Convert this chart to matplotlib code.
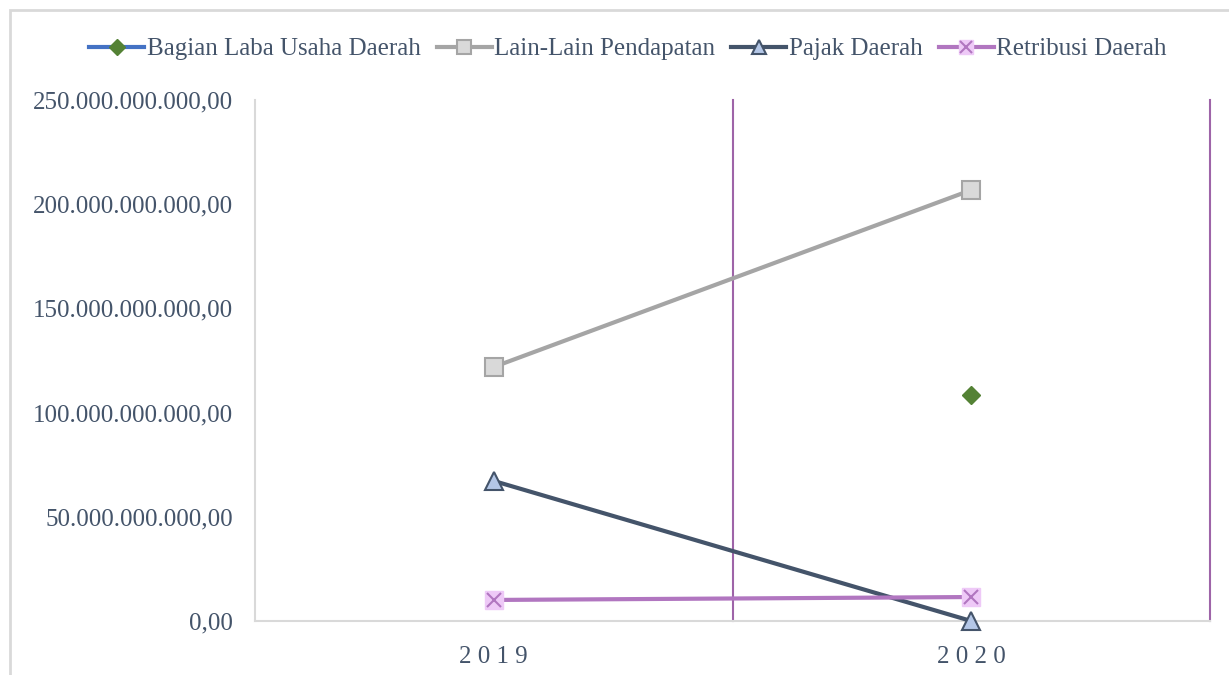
import numpy as np
import matplotlib.pyplot as plt
from matplotlib.patches import Rectangle
from matplotlib.legend_handler import HandlerTuple
from matplotlib.ticker import FuncFormatter

# data (Rupiah)
years = ['2019', '2020']
bagian_laba = [np.nan, 108.4e9]
lain_lain = [121.9e9, 206.8e9]
pajak = [67.2e9, 0.0]
retribusi = [10.1e9, 11.5e9]

text_color = '#44546A'
plt.rcParams['font.family'] = ['Liberation Serif', 'DejaVu Serif']

fig = plt.figure(figsize=(12.29, 6.75), dpi=100)
ax = fig.add_axes([255 / 1229, 1 - 621 / 675, (1210 - 255) / 1229, (621 - 100) / 675])

x = np.arange(len(years))
lw = 3.0
ms = 12.5

h1, = ax.plot(x, bagian_laba, color='#4472C4', lw=lw, marker='D', ms=9.5,
              mfc='#548235', mec='#548235', clip_on=False, zorder=5)
h2, = ax.plot(x, lain_lain, color='#A5A5A5', lw=lw, marker='s', ms=ms,
              mfc='#D9D9D9', mec='#A5A5A5', mew=1.5, clip_on=False, zorder=4)
h3, = ax.plot(x, pajak, color='#44546A', lw=lw, marker='^', ms=ms,
              mfc='#B4C7E7', mec='#44546A', mew=1.5, clip_on=False, zorder=4)
h4, = ax.plot(x, retribusi, color='#B176C0', lw=lw, marker='s', ms=ms,
              mfc='#EEC9F7', mec='#EEC9F7', clip_on=False, zorder=4)
h4x, = ax.plot(x, retribusi, ls='none', marker='x', ms=ms - 2, mec='#B176C0',
               mew=1.5, clip_on=False, zorder=5)

# vertical purple lines at category boundaries
for xv in [0.5, 1.5]:
    ax.axvline(xv, color='#9E64A8', lw=1.5, clip_on=False, zorder=2)

ax.set_xlim(-0.5, 1.5)
ax.set_ylim(0, 250e9)
ax.set_yticks(np.arange(0, 250e9 + 1, 50e9))


def rupiah(v, pos):
    s = f'{v:,.2f}'
    return s.replace(',', 'X').replace('.', ',').replace('X', '.')


ax.yaxis.set_major_formatter(FuncFormatter(rupiah))
ax.set_xticks(x)
ax.set_xticklabels([' '.join(y) for y in years])
ax.tick_params(axis='both', length=0, colors=text_color, labelsize=18)
ax.tick_params(axis='y', pad=16)
ax.tick_params(axis='x', pad=18)

for side in ['top', 'right']:
    ax.spines[side].set_visible(False)
for side in ['left', 'bottom']:
    ax.spines[side].set_color('#D9D9D9')
    ax.spines[side].set_linewidth(1.5)

# chart area border
fig.patches.append(Rectangle((10 / 1229, -0.2), 2, 1.2 - 10 / 675,
                             transform=fig.transFigure, fill=False,
                             ec='#D9D9D9', lw=2))

leg = fig.legend([h1, h2, h3, (h4, h4x)],
                 ['Bagian Laba Usaha Daerah', 'Lain-Lain Pendapatan', 'Pajak Daerah', 'Retribusi Daerah'],
                 handler_map={tuple: HandlerTuple(ndivide=1)},
                 loc='center', bbox_to_anchor=(628 / 1229, 1 - 49 / 675), ncol=4,
                 frameon=False, fontsize=18, handlelength=2.2, handletextpad=0.1,
                 columnspacing=0.65, markerscale=0.85)
for t in leg.get_texts():
    t.set_color(text_color)

fig.savefig('out.png', dpi=100)
